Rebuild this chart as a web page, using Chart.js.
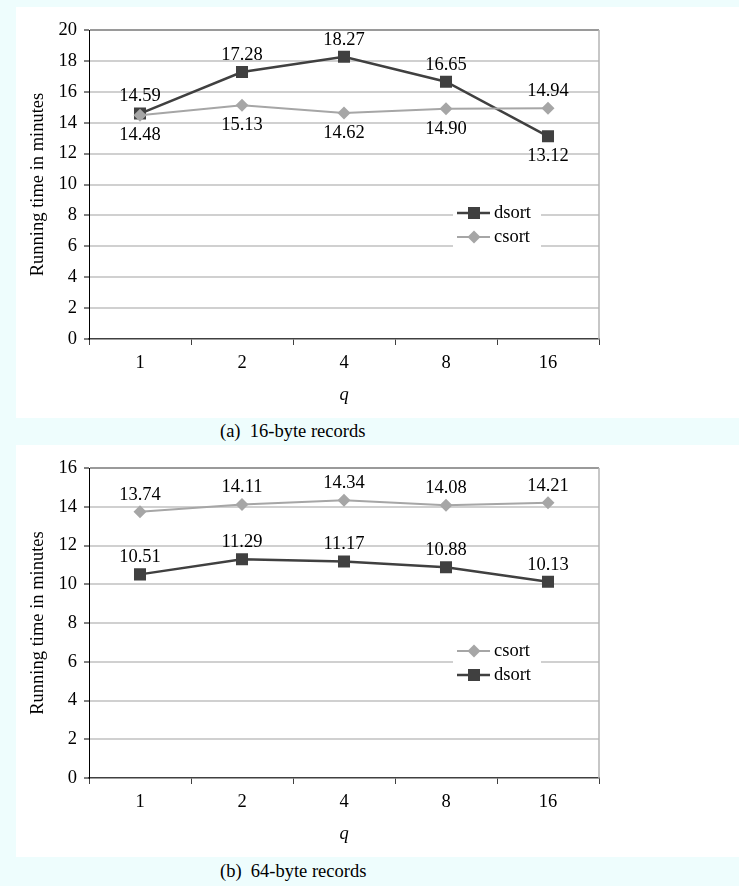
<!DOCTYPE html>
<html>
<head>
<meta charset="utf-8">
<script src="https://cdn.jsdelivr.net/npm/chart.js@4"></script>
<style>
  body { margin: 0; background: #eefdfd; width: 739px; height: 886px; position: relative; overflow: hidden; font-family: "Liberation Serif", serif; }
  .panel { position: absolute; left: 16px; width: 723px; background: #fff; }
  .caption { position: absolute; left: 220px; font-size: 18.5px; line-height: 22px; color: #000; white-space: pre; }
</style>
</head>
<body>
<div class="panel" style="top:7px;height:411px"><canvas id="chartA" width="723" height="411"></canvas></div>
<div class="caption" style="top:420px">(a)  16-byte records</div>
<div class="panel" style="top:445px;height:412px"><canvas id="chartB" width="723" height="412"></canvas></div>
<div class="caption" style="top:860px">(b)  64-byte records</div>
<script>
// values
const qLabels = ["1", "2", "4", "8", "16"];
const dsort16 = [14.59, 17.28, 18.27, 16.65, 13.12];
const csort16 = [14.48, 15.13, 14.62, 14.90, 14.94];
const csort64 = [13.74, 14.11, 14.34, 14.08, 14.21];
const dsort64 = [10.51, 11.29, 11.17, 10.88, 10.13];
const yMax16 = 20;
const yMax64 = 16;
const yStep = 2;

const FS = 18.5;
const serif = { family: "'Liberation Serif', 'Times New Roman', serif", size: FS };
const DARK = "#404040";
const LIGHT = "#a6a6a6";

// numbers next to the markers
const valueLabels = {
  id: "valueLabels",
  afterDatasetsDraw(chart) {
    const ctx = chart.ctx;
    ctx.save();
    ctx.font = FS + "px 'Liberation Serif'";
    ctx.fillStyle = "#000";
    ctx.textAlign = "center";
    ctx.textBaseline = "middle";
    chart.data.datasets.forEach((ds, i) => {
      const meta = chart.getDatasetMeta(i);
      meta.data.forEach((pt, j) => {
        const below = ds.labelSide && ds.labelSide[j] === "below";
        ctx.fillText(ds.data[j].toFixed(2), pt.x, below ? pt.y + 20 : pt.y - 17);
      });
    });
    ctx.restore();
  }
};

// light frame on the right of the plot area
const plotFrame = {
  id: "plotFrame",
  beforeDatasetsDraw(chart) {
    const { ctx, chartArea: a } = chart;
    ctx.save();
    ctx.strokeStyle = "#b4b4b4";
    ctx.lineWidth = 1.5;
    ctx.beginPath();
    ctx.moveTo(a.right, a.top);
    ctx.lineTo(a.right, a.bottom);
    ctx.stroke();
    ctx.restore();
  }
};

// legend box sitting inside the plot
const insideLegend = {
  id: "insideLegend",
  afterDraw(chart, args, opts) {
    const ctx = chart.ctx;
    const { x, y, w, h, order } = opts;
    ctx.save();
    ctx.fillStyle = "#fff";
    ctx.fillRect(x, y, w, h);
    order.forEach((idx, i) => {
      const ds = chart.data.datasets[idx];
      const cy = y + 14 + i * 24;
      const mx = x + 21;
      ctx.strokeStyle = ds.borderColor;
      ctx.lineWidth = ds.borderWidth;
      ctx.beginPath();
      ctx.moveTo(x + 4, cy);
      ctx.lineTo(x + 37, cy);
      ctx.stroke();
      ctx.fillStyle = ds.backgroundColor;
      ctx.beginPath();
      if (ds.pointStyle === "rect") {
        const s = ds.pointRadius * Math.SQRT1_2;
        ctx.rect(mx - s, cy - s, 2 * s, 2 * s);
      } else {
        const r = ds.pointRadius;
        ctx.moveTo(mx, cy - r);
        ctx.lineTo(mx + r, cy);
        ctx.lineTo(mx, cy + r);
        ctx.lineTo(mx - r, cy);
        ctx.closePath();
      }
      ctx.fill();
      ctx.fillStyle = "#000";
      ctx.font = FS + "px 'Liberation Serif'";
      ctx.textBaseline = "middle";
      ctx.textAlign = "left";
      ctx.fillText(ds.label, x + 41, cy);
    });
    ctx.restore();
  }
};

function dsortSet(data, sides) {
  return {
    label: "dsort", data, order: 1,
    borderColor: DARK, backgroundColor: DARK, borderWidth: 2.5,
    pointStyle: "rect", pointRadius: 8.5, pointBorderWidth: 0,
    tension: 0, labelSide: sides
  };
}
function csortSet(data, sides) {
  return {
    label: "csort", data, order: 0,
    borderColor: LIGHT, backgroundColor: LIGHT, borderWidth: 2,
    pointStyle: "rectRot", pointRadius: 6.5, pointBorderWidth: 0,
    tension: 0, labelSide: sides
  };
}

function makeOptions(yMax, legendOrder) {
  return {
    responsive: false,
    animation: false,
    layout: { padding: { top: 23, right: 140, left: 0, bottom: 0 } },
    plugins: {
      legend: { display: false },
      tooltip: { enabled: false },
      insideLegend: { x: 437, y: 192, w: 88, h: 52, order: legendOrder }
    },
    scales: {
      x: {
        offset: true,
        grid: { offset: true, drawOnChartArea: false, drawTicks: true, tickLength: 6, tickColor: DARK, tickWidth: 1 },
        border: { color: DARK, width: 1.5 },
        ticks: { color: "#000", font: serif, padding: 7, maxRotation: 0 },
        title: { display: true, text: "q", color: "#000", font: { ...serif, style: "italic" }, padding: { top: 0, bottom: 12 } },
        afterFit(scale) { scale.height = 79; }
      },
      y: {
        min: 0, max: yMax,
        ticks: { stepSize: yStep, color: "#000", font: serif, padding: 7 },
        grid: {
          color: (c) => c.tick && c.tick.value === 0 ? "rgba(0,0,0,0)" : (c.tick && c.tick.value === yMax ? "#9a9a9a" : "#d0d0d0"),
          lineWidth: 2, tickLength: 5, tickColor: "#000", tickWidth: 1
        },
        border: { color: "#000", width: 1 },
        title: { display: true, text: "Running time in minutes", color: "#000", font: serif, padding: { top: 11, bottom: 0 } },
        afterFit(scale) { scale.width = 73; }
      }
    }
  };
}

new Chart(document.getElementById("chartA"), {
  type: "line",
  data: {
    labels: qLabels,
    datasets: [
      dsortSet(dsort16, ["above", "above", "above", "above", "below"]),
      csortSet(csort16, ["below", "below", "below", "below", "above"])
    ]
  },
  options: makeOptions(yMax16, [0, 1]),
  plugins: [plotFrame, valueLabels, insideLegend]
});

new Chart(document.getElementById("chartB"), {
  type: "line",
  data: {
    labels: qLabels,
    datasets: [
      csortSet(csort64, ["above", "above", "above", "above", "above"]),
      dsortSet(dsort64, ["above", "above", "above", "above", "above"])
    ]
  },
  options: makeOptions(yMax64, [0, 1]),
  plugins: [plotFrame, valueLabels, insideLegend]
});
</script>
</body>
</html>
